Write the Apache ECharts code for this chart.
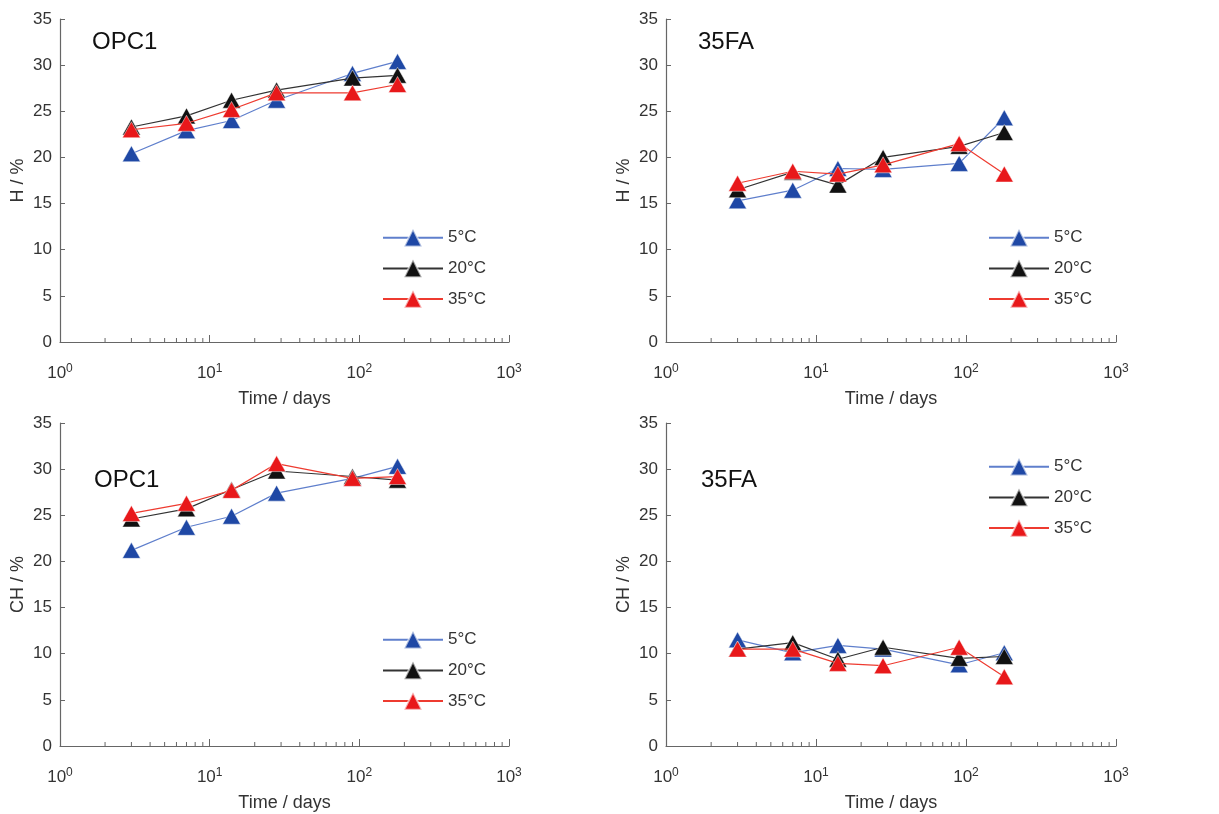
<!DOCTYPE html>
<html>
<head>
<meta charset="utf-8">
<script src="https://cdn.jsdelivr.net/npm/echarts@6/dist/echarts.min.js"></script>
<style>
html,body{margin:0;padding:0;background:#fff;}
#c{width:1219px;height:814px;}
</style>
</head>
<body>
<div id="c"></div>
<script>
// ---- data ----
const days = [3, 7, 14, 28, 90, 180];
const seriesNames = ['5°C', '20°C', '35°C'];
const xTickLabels = ['10{s|0}', '10{s|1}', '10{s|2}', '10{s|3}'];
const yTicks = [0, 5, 10, 15, 20, 25, 30, 35];

// Panel 1: H, OPC1
const H_OPC1_5 = [20.4, 22.9, 24.0, 26.2, 29.1, 30.4];
const H_OPC1_20 = [23.3, 24.5, 26.2, 27.3, 28.6, 28.9];
const H_OPC1_35 = [23.0, 23.7, 25.2, 27.0, 27.0, 27.9];
// Panel 2: H, 35FA
const H_35FA_5 = [15.3, 16.45, 18.8, 18.7, 19.35, 24.3];
const H_35FA_20 = [16.5, 18.4, 17.0, 20.0, 21.2, 22.7];
const H_35FA_35 = [17.2, 18.5, 18.2, 19.2, 21.5, 18.2];
// Panel 3: CH, OPC1
const CH_OPC1_5 = [21.2, 23.7, 24.9, 27.4, 29.0, 30.3];
const CH_OPC1_20 = [24.6, 25.7, 27.8, 29.8, 29.2, 28.8];
const CH_OPC1_35 = [25.2, 26.3, 27.7, 30.6, 29.0, 29.2];
// Panel 4: CH, 35FA
const CH_35FA_5 = [11.5, 10.1, 10.9, 10.5, 8.8, 10.1];
const CH_35FA_20 = [10.5, 11.2, 9.4, 10.7, 9.5, 9.7];
const CH_35FA_35 = [10.5, 10.5, 8.95, 8.7, 10.7, 7.5];

const panelLabels = ['OPC1', '35FA', 'OPC1', '35FA'];
const yNames = ['H / %', 'H / %', 'CH / %', 'CH / %'];
const xName = 'Time / days';
const panels = [
  [H_OPC1_5, H_OPC1_20, H_OPC1_35],
  [H_35FA_5, H_35FA_20, H_35FA_35],
  [CH_OPC1_5, CH_OPC1_20, CH_OPC1_35],
  [CH_35FA_5, CH_35FA_20, CH_35FA_35]
];

// ---- styling ----
const FONT = 'Arial, "Liberation Sans", sans-serif';
const lineColors = ['#5f7fcc', '#333333', '#ee3b30'];
const markColors = ['#1f48a5', '#111111', '#e8181a'];
const axisColor = '#666';
const textColor = '#333';

const grids = [
  {left: 60, top: 19, width: 449, height: 323},
  {left: 666, top: 19, width: 450, height: 323},
  {left: 60, top: 423, width: 449, height: 323},
  {left: 666, top: 423, width: 450, height: 323}
];
const legendPos = [
  {left: 382, top: 228},
  {left: 988, top: 228},
  {left: 382, top: 630},
  {left: 988, top: 457}
];
const labelPos = [
  {left: 92, top: 30},
  {left: 698, top: 30},
  {left: 94, top: 468},
  {left: 701, top: 468}
];

const chart = echarts.init(document.getElementById('c'), null, {renderer: 'canvas'});

const xAxes = grids.map((g, i) => ({
  type: 'log', gridIndex: i, logBase: 10, min: 1, max: 1000,
  name: xName, nameLocation: 'middle', nameGap: 48,
  nameTextStyle: {fontFamily: FONT, fontSize: 18, color: textColor},
  axisLine: {show: true, lineStyle: {color: axisColor, width: 1.2}},
  axisTick: {show: true, inside: true, length: 7, lineStyle: {color: axisColor}},
  splitLine: {show: false},
  axisLabel: {
    fontFamily: FONT, fontSize: 17, color: textColor, margin: 21,
    formatter: function (v) {
      const k = Math.round(Math.log10(v));
      return xTickLabels[k] || '';
    },
    rich: {
      s: {fontFamily: FONT, fontSize: 12, color: textColor, padding: [0, 0, 9, 0]}
    }
  }
}));
const yAxes = grids.map((g, i) => ({
  type: 'value', gridIndex: i, min: 0, max: 35, interval: 5,
  name: yNames[i], nameLocation: 'middle', nameGap: 33,
  nameTextStyle: {fontFamily: FONT, fontSize: 18, color: textColor},
  axisLine: {show: true, lineStyle: {color: axisColor, width: 1.2}},
  axisTick: {show: true, inside: true, length: 5, lineStyle: {color: axisColor}},
  splitLine: {show: false},
  axisLabel: {fontFamily: FONT, fontSize: 17, color: textColor, margin: 8}
}));

const series = [];
panels.forEach((p, i) => {
  p.forEach((vals, j) => {
    series.push({
      type: 'line', name: seriesNames[j], xAxisIndex: i, yAxisIndex: i,
      data: days.map((d, k) => [d, vals[k]]),
      symbol: 'triangle', symbolSize: [18, 16],
      lineStyle: {color: lineColors[j], width: 1.2},
      itemStyle: {color: markColors[j], borderColor: 'rgba(255,255,255,0.6)', borderWidth: 0.8},
      z: 2 + j,
      animation: false
    });
  });
});

const legends = legendPos.map((lp, i) => ({
  left: lp.left, top: lp.top, orient: 'vertical', padding: 0,
  itemWidth: 60, itemHeight: 22, itemGap: 11,
  data: seriesNames,
  textStyle: {fontFamily: FONT, fontSize: 17, color: textColor, padding: [5, 0, 0, 0]},
  selectedMode: false
}));

const titles = labelPos.map((lp, i) => ({
  text: panelLabels[i], left: lp.left, top: lp.top, padding: 0,
  textStyle: {fontFamily: FONT, fontSize: 24, fontWeight: 'normal', color: '#111'}
}));

chart.setOption({
  backgroundColor: '#fff',
  animation: false,
  title: titles,
  legend: legends,
  grid: grids,
  xAxis: xAxes,
  yAxis: yAxes,
  series: series
});

// minor log ticks (2..9 in each decade), placed through the axis scale
const minorVals = [];
[1, 10, 100].forEach(dec => { for (let m = 2; m <= 9; m++) minorVals.push(m * dec); });
const graphics = [];
grids.forEach((g, i) => {
  minorVals.forEach(v => {
    const pt = chart.convertToPixel({xAxisIndex: i, yAxisIndex: i}, [v, 0]);
    graphics.push({
      type: 'line', silent: true,
      shape: {x1: pt[0], y1: pt[1], x2: pt[0], y2: pt[1] - 4},
      style: {stroke: axisColor, lineWidth: 1}
    });
  });
});
chart.setOption({graphic: graphics});
</script>
</body>
</html>
